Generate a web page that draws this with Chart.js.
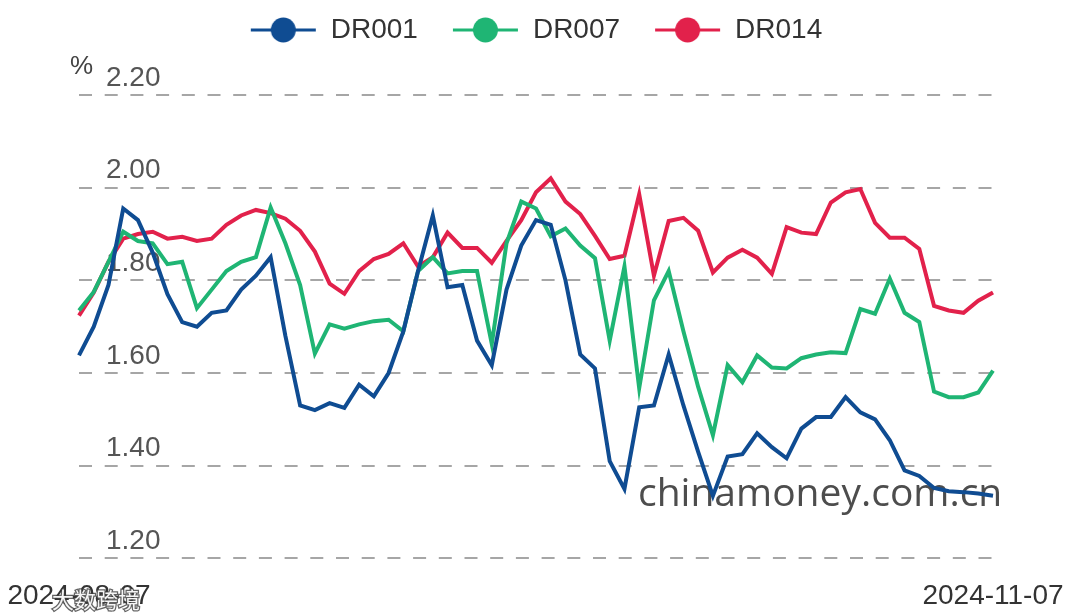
<!DOCTYPE html>
<html>
<head>
<meta charset="utf-8">
<script src="https://cdn.jsdelivr.net/npm/chart.js@4.4.1/dist/chart.umd.min.js"></script>
<style>
  html, body { margin: 0; padding: 0; background: #fff; }
  #wrap { width: 1080px; height: 616px; position: relative; }
</style>
</head>
<body>
<div id="wrap"><canvas id="rateChart"></canvas></div>
<script>
// trading days, 2024-08-07 .. 2024-11-07
const dates = [
  '2024-08-07','2024-08-08','2024-08-09','2024-08-12','2024-08-13','2024-08-14','2024-08-15','2024-08-16',
  '2024-08-19','2024-08-20','2024-08-21','2024-08-22','2024-08-23','2024-08-26','2024-08-27','2024-08-28',
  '2024-08-29','2024-08-30','2024-09-02','2024-09-03','2024-09-04','2024-09-05','2024-09-06','2024-09-09',
  '2024-09-10','2024-09-11','2024-09-12','2024-09-13','2024-09-14','2024-09-18','2024-09-19','2024-09-20',
  '2024-09-23','2024-09-24','2024-09-25','2024-09-26','2024-09-27','2024-09-29','2024-09-30','2024-10-08',
  '2024-10-09','2024-10-10','2024-10-11','2024-10-12','2024-10-14','2024-10-15','2024-10-16','2024-10-17',
  '2024-10-18','2024-10-21','2024-10-22','2024-10-23','2024-10-24','2024-10-25','2024-10-28','2024-10-29',
  '2024-10-30','2024-10-31','2024-11-01','2024-11-04','2024-11-05','2024-11-06','2024-11-07'
];

const dr001 = [
  1.638, 1.70, 1.79, 1.955, 1.93, 1.86, 1.77, 1.71, 1.70, 1.73, 1.735, 1.78, 1.81, 1.85, 1.68, 1.53,
  1.52, 1.535, 1.525, 1.575, 1.55, 1.60, 1.69, 1.82, 1.94, 1.785, 1.79, 1.67, 1.617, 1.78, 1.875, 1.93,
  1.92, 1.80, 1.64, 1.61, 1.41, 1.35, 1.526, 1.53, 1.64, 1.53, 1.43, 1.335, 1.42, 1.425, 1.47, 1.44,
  1.416, 1.48, 1.505, 1.505, 1.548, 1.515, 1.50, 1.455, 1.39, 1.378, 1.352, 1.345, 1.343, 1.34, 1.335
];
const dr007 = [
  1.735, 1.775, 1.84, 1.905, 1.885, 1.88, 1.835, 1.84, 1.74, 1.78, 1.82, 1.84, 1.85, 1.957, 1.88, 1.79,
  1.642, 1.705, 1.696, 1.705, 1.712, 1.715, 1.69, 1.82, 1.85, 1.815, 1.82, 1.82, 1.663, 1.88, 1.97, 1.955,
  1.895, 1.912, 1.875, 1.848, 1.67, 1.83, 1.567, 1.757, 1.82, 1.69, 1.57, 1.466, 1.617, 1.58, 1.638, 1.612,
  1.61, 1.632, 1.64, 1.645, 1.643, 1.738, 1.728, 1.804, 1.73, 1.71, 1.56, 1.548, 1.548, 1.558, 1.605
];
const dr014 = [
  1.724, 1.774, 1.84, 1.89, 1.90, 1.905, 1.89, 1.894, 1.885, 1.89, 1.92, 1.94, 1.952, 1.945, 1.933, 1.907,
  1.862, 1.793, 1.771, 1.82, 1.846, 1.857, 1.88, 1.83, 1.85, 1.903, 1.87, 1.87, 1.838, 1.885, 1.93, 1.99,
  2.02, 1.97, 1.943, 1.896, 1.846, 1.853, 1.986, 1.81, 1.928, 1.935, 1.907, 1.817, 1.849, 1.866, 1.849, 1.814,
  1.915, 1.903, 1.90, 1.968, 1.99, 1.997, 1.924, 1.892, 1.892, 1.868, 1.745, 1.735, 1.73, 1.756, 1.774
];

const seriesNames = ['DR001', 'DR007', 'DR014'];
const seriesColors = ['#0f4c92', '#1fb574', '#e2214b'];
const yMin = 1.20, yMax = 2.20, yStep = 0.20;

const FONT = '"Liberation Sans", Arial, sans-serif';

// legend symbol: short line with a dot on it
function legendSymbol(color) {
  const c = document.createElement('canvas');
  c.width = 67; c.height = 28;
  const g = c.getContext('2d');
  g.strokeStyle = color;
  g.lineWidth = 3;
  g.beginPath(); g.moveTo(1, 14); g.lineTo(66, 14); g.stroke();
  g.fillStyle = color;
  g.beginPath(); g.arc(33.5, 14, 12.5, 0, Math.PI * 2); g.fill();
  return c;
}

// unit mark + watermarks
const marks = {
  id: 'marks',
  beforeDatasetsDraw(chart) {
    const ctx = chart.ctx;
    ctx.save();
    ctx.font = '39px "Open Sans", sans-serif';
    ctx.fillStyle = '#4d4d4d';
    ctx.textBaseline = 'alphabetic';
    ctx.fillText('chinamoney.com.cn', 638, 506);
    ctx.restore();
  },
  afterDraw(chart) {
    const ctx = chart.ctx;
    ctx.save();
    ctx.font = '26px ' + FONT;
    ctx.fillStyle = '#444';
    ctx.textBaseline = 'alphabetic';
    ctx.fillText('%', 70, 74);
    ctx.font = '22px "Noto Sans CJK SC", sans-serif';
    ctx.textBaseline = 'middle';
    ctx.lineWidth = 2.5;
    ctx.strokeStyle = 'rgba(60,60,60,0.8)';
    ctx.strokeText('大数跨境', 52, 600);
    ctx.fillStyle = 'rgba(255,255,255,0.95)';
    ctx.fillText('大数跨境', 52, 600);
    ctx.restore();
  }
};

const series = [dr001, dr007, dr014];

new Chart(document.getElementById('rateChart'), {
  type: 'line',
  data: {
    labels: dates,
    datasets: series.map((vals, i) => ({
      label: seriesNames[i],
      data: vals,
      borderColor: seriesColors[i],
      backgroundColor: seriesColors[i],
      borderWidth: 4,
      pointRadius: 0,
      tension: 0,
      fill: false
    }))
  },
  options: {
    responsive: true,
    maintainAspectRatio: false,
    animation: false,
    layout: { padding: { top: -18, left: 25, right: 87, bottom: -18 } },
    plugins: {
      tooltip: { enabled: false },
      legend: {
        position: 'top',
        fullSize: false,
        labels: {
          usePointStyle: true,
          pointStyleWidth: 67,
          padding: 34,
          color: '#333',
          font: { family: FONT, size: 28 },
          generateLabels(chart) {
            return chart.data.datasets.map((ds, i) => ({
              text: ds.label,
              pointStyle: legendSymbol(ds.borderColor),
              fillStyle: ds.borderColor,
              strokeStyle: ds.borderColor,
              fontColor: '#333',
              lineWidth: 0,
              hidden: !chart.isDatasetVisible(i),
              datasetIndex: i
            }));
          }
        }
      },
      // empty title used as spacer between legend and plot
      title: {
        display: true,
        text: '',
        weight: 500,
        font: { size: 10, lineHeight: 1 },
        padding: { top: 0, bottom: 31 }
      }
    },
    scales: {
      x: {
        grid: { display: false, drawTicks: false },
        border: { display: false },
        // end labels may hang outside the plot, like the original
        afterFit(scale) { scale.paddingLeft = 0; scale.paddingRight = 0; },
        ticks: {
          autoSkip: false,
          maxRotation: 0,
          padding: 21,
          color: '#333',
          font: { family: FONT, size: 28 },
          callback(val, i) {
            return (i === 0 || i === dates.length - 1) ? this.getLabelForValue(val) : '';
          }
        }
      },
      y: {
        min: yMin,
        max: yMax,
        grid: { color: '#a6a6a6', lineWidth: 2, drawTicks: false },
        border: { display: false, dash: [13, 12.7] },
        ticks: {
          stepSize: yStep,
          mirror: true,
          padding: 27,
          labelOffset: -17,
          color: '#555',
          font: { family: FONT, size: 28 },
          callback: v => v.toFixed(2)
        }
      }
    }
  },
  plugins: [marks]
});
</script>
</body>
</html>
